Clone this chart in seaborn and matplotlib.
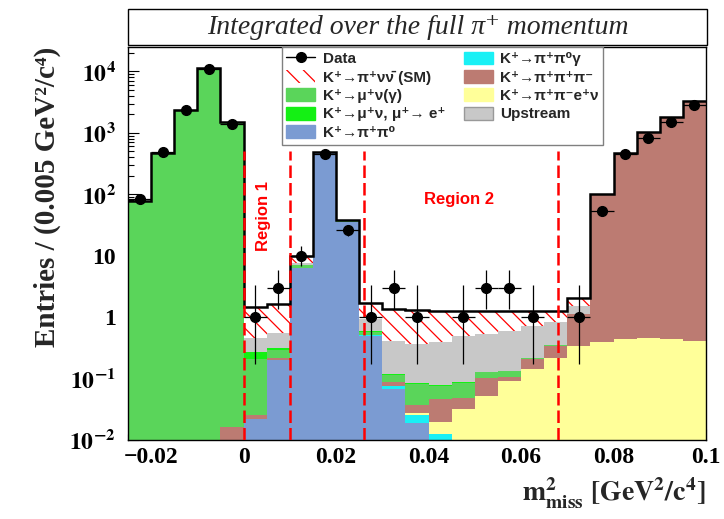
import numpy as np
import pandas as pd
import matplotlib
matplotlib.use("Agg")
import matplotlib.pyplot as plt
import seaborn as sns
from matplotlib.patches import Patch, Rectangle
from matplotlib.lines import Line2D
from matplotlib.ticker import MultipleLocator, LogLocator, NullFormatter

# --- Binning: 0.005 GeV^2/c^4 bins from -0.025 to 0.1 ---
edges = np.linspace(-0.025, 0.1, 26)
centers = 0.5 * (edges[:-1] + edges[1:])

# --- Stacked background components (entries per bin) ---
pipi0 = [0, 0, 0, 0, 0, 0.022, 0.2, 6.4, 475, 35, 0.5, 0.067, 0.019,
         0, 0, 0, 0, 0, 0, 0, 0, 0, 0, 0, 0]
pi0g = [0, 0, 0, 0, 0, 0, 0, 0, 0, 0, 0.01, 0.009, 0.007,
        0.0124, 0, 0, 0, 0, 0, 0, 0, 0, 0, 0, 0]
ke4 = [0, 0, 0, 0, 0, 0, 0, 0, 0, 0, 0, 0, 0.002,
       0.007, 0.032, 0.052, 0.092, 0.142, 0.22, 0.34, 0.39, 0.44, 0.45, 0.44, 0.41]
k3pi = [0, 0, 0, 0, 0.016, 0.004, 0.015, 0, 0, 0, 0, 0.011, 0.009,
        0.027, 0.017, 0.052, 0.016, 0.065, 0.113, 0.78, 99.3, 464, 1050, 1790, 3330]
munu = [78, 470, 2400, 11200, 1480, 0.18, 0.075, 0.6, 2, 1.2, 0.06, 0.028, 0.045,
        0.028, 0.036, 0.024, 0.024, 0.008, 0.015, 0, 0, 0, 0, 0, 0]
mue = [0, 0, 0, 0, 0, 0.06, 0.03, 0.05, 0, 0, 0.02, 0.004, 0.003,
       0.003, 0.002, 0.002, 0.002, 0.002, 0.002, 0, 0, 0, 0, 0, 0]
upstream = [0, 0, 0, 0, 0, 0.2, 0.24, 0.45, 0.5, 0.5, 0.33, 0.29, 0.285,
            0.32, 0.41, 0.40, 0.466, 0.503, 0.47, 0.41, 0.2, 0, 0, 0, 0]
signal = [0, 0, 0, 0, 0, 0.97, 1.07, 2.5, 2, 1.3, 0.79, 0.94, 0.93,
          0.85, 0.75, 0.72, 0.65, 0.53, 0.43, 0.5, 0.1, 0, 0, 0, 0]

# --- Data with asymmetric errors ---
data = [83, 480, 2400, 11000, 1370, 1, 3, 10, 460, 26, 1, 3, 1,
        0, 1, 3, 3, 1, 0, 1, 54, 450, 820, 1480, 2870]
err_lo = [9, 22, 49, 105, 37, 0.83, 1.63, 3.1, 21, 5, 0.83, 1.63, 0.83,
          0, 0.83, 1.63, 1.63, 0.83, 0, 0.83, 7.3, 21, 29, 38, 54]
err_hi = [10, 23, 50, 106, 38, 2.3, 2.92, 4.3, 22, 6.1, 2.3, 2.92, 2.3,
          0, 2.3, 2.92, 2.92, 2.3, 0, 2.3, 8.4, 22, 30, 39, 55]

# signal region boundaries
region_cuts = [0.0, 0.01, 0.026, 0.068]

components = {
    "upstream": upstream, "mue": mue, "munu": munu, "k3pi": k3pi,
    "ke4": ke4, "pi0g": pi0g, "pipi0": pipi0,
}
colors = {
    "pipi0": "#7b9bd2", "pi0g": "#19f0f5", "ke4": "#ffff99", "k3pi": "#bc7b72",
    "munu": "#5ad55a", "mue": "#14f014", "upstream": "#c8c8c8",
}
labels = {
    "signal": "K⁺→π⁺νν̄ (SM)",
    "munu": "K⁺→μ⁺ν(γ)",
    "mue": "K⁺→μ⁺ν, μ⁺→ e⁺",
    "pipi0": "K⁺→π⁺π⁰",
    "pi0g": "K⁺→π⁺π⁰γ",
    "k3pi": "K⁺→π⁺π⁺π⁻",
    "ke4": "K⁺→π⁺π⁻e⁺ν",
    "upstream": "Upstream",
}

rows = []
for name, vals in components.items():
    for c, v in zip(centers, vals):
        rows.append({"m2miss": c, "entries": v, "comp": name})
df = pd.DataFrame(rows)

sns.set_style("ticks")
plt.rcParams["hatch.color"] = "red"
plt.rcParams["hatch.linewidth"] = 0.9
plt.rcParams["mathtext.fontset"] = "stix"
serif = ["Liberation Serif", "DejaVu Serif"]
sans = ["Liberation Sans", "DejaVu Sans"]

fig = plt.figure(figsize=(7.24, 5.19), dpi=100)
ax = fig.add_axes([128 / 724, 1 - 440 / 519, 578 / 724, 393 / 519])

sns.histplot(data=df, x="m2miss", weights="entries", hue="comp",
             hue_order=list(components.keys()), palette=colors,
             bins=list(edges), multiple="stack", element="step", fill=True,
             alpha=1, linewidth=0, legend=False, ax=ax)
ax.set_yscale("log")

bkg = np.sum([np.array(v) for v in components.values()], axis=0)
total = bkg + np.array(signal)

# hatched SM signal on top of the background stack
ax.fill_between(edges, np.append(bkg, bkg[-1]), np.append(total, total[-1]),
                step="post", facecolor="none", edgecolor="red",
                linewidth=0, hatch="\\\\")
ax.stairs(total, edges, baseline=None, color="black", lw=1.8)

# data points
d = np.array(data, dtype=float)
m = d > 0
ax.errorbar(centers[m], d[m],
            yerr=[np.array(err_lo)[m], np.array(err_hi)[m]],
            xerr=0.0025, fmt="o", color="black", ms=7,
            elinewidth=0.9, capsize=0, zorder=5)

# region markers
ax.vlines(region_cuts, 0.01, 500, colors="red", linestyles=(0, (5, 2)),
          lw=1.8, zorder=4)
ax.text(0.0042, 45, "Region 1", rotation=90, color="red", fontsize=12,
        fontweight="bold", family=sans, ha="center", va="center")
ax.text(0.0466, 83, "Region 2", color="red", fontsize=12,
        fontweight="bold", family=sans, ha="center", va="center")

# axes
ax.set_xlim(-0.025, 0.1)
ax.set_ylim(0.01, 2.5e4)
xt = [-0.02, 0, 0.02, 0.04, 0.06, 0.08, 0.1]
ax.set_xticks(xt)
ax.set_xticklabels(["\u22120.02", "0", "0.02", "0.04", "0.06", "0.08", "0.1"],
                   family=serif, fontweight="bold", fontsize=17)
ax.xaxis.set_minor_locator(MultipleLocator(0.005))
yt = [1e-2, 1e-1, 1, 10, 1e2, 1e3, 1e4]
ax.set_yticks(yt)
ax.set_yticklabels([r"$\mathbf{10^{-2}}$", r"$\mathbf{10^{-1}}$", "1", "10",
                    r"$\mathbf{10^{2}}$", r"$\mathbf{10^{3}}$", r"$\mathbf{10^{4}}$"],
                   family=serif, fontweight="bold", fontsize=17)
ax.yaxis.set_minor_locator(LogLocator(base=10, subs=np.arange(2, 10), numticks=20))
ax.yaxis.set_minor_formatter(NullFormatter())
ax.tick_params(which="both", direction="in", top=False, right=False,
               colors="black", width=0.8)
ax.tick_params(which="major", length=8)
ax.tick_params(which="minor", length=4.5)
ax.tick_params(axis="y", pad=9)
ax.tick_params(axis="x", pad=5)
for s in ax.spines.values():
    s.set_color("black")
    s.set_linewidth(1.0)

ax.set_ylabel("Entries / (0.005 GeV²/c⁴)", family=serif, fontweight="bold",
              fontsize=21, loc="top")
ax.yaxis.set_label_coords(-0.116, 1.0)
ax.set_xlabel(r"$\mathbf{m^{2}_{miss}\ [GeV^{2}/c^{4}]}$", fontsize=20, loc="right")
ax.xaxis.set_label_coords(1.0, -0.09)

# legend
handles = [
    Line2D([0], [0], color="black", marker="o", ms=7, lw=1),
    Patch(facecolor="white", edgecolor="red", hatch="\\\\", lw=0),
    Patch(facecolor=colors["munu"], edgecolor=colors["munu"]),
    Patch(facecolor=colors["mue"], edgecolor=colors["mue"]),
    Patch(facecolor=colors["pipi0"], edgecolor=colors["pipi0"]),
    Patch(facecolor=colors["pi0g"], edgecolor=colors["pi0g"]),
    Patch(facecolor=colors["k3pi"], edgecolor=colors["k3pi"]),
    Patch(facecolor=colors["ke4"], edgecolor=colors["ke4"]),
    Patch(facecolor=colors["upstream"], edgecolor="#999999"),
]
leg_labels = ["Data", labels["signal"], labels["munu"], labels["mue"],
              labels["pipi0"], labels["pi0g"], labels["k3pi"], labels["ke4"],
              labels["upstream"]]
leg = ax.legend(handles, leg_labels, ncol=2, loc="upper left",
                bbox_to_anchor=(0.266, 1.0), borderaxespad=0,
                prop={"family": sans, "weight": "bold", "size": 11},
                handlelength=1.9, handleheight=0.9, handletextpad=0.5,
                labelspacing=0.25, columnspacing=1.2, borderpad=0.3,
                fancybox=False, framealpha=1, edgecolor="#808080")
leg.get_frame().set_linewidth(1.0)

# title box
fig.patches.append(Rectangle((128 / 724, 1 - 45 / 519), 579 / 724, 36 / 519,
                             transform=fig.transFigure, facecolor="white",
                             edgecolor="black", lw=1.0))
fig.text(0.5 * (128 + 707) / 724, 1 - 27 / 519,
         "Integrated over the full π⁺ momentum", family=serif,
         style="italic", fontsize=20, ha="center", va="center")

fig.savefig("out.png", dpi=100)
